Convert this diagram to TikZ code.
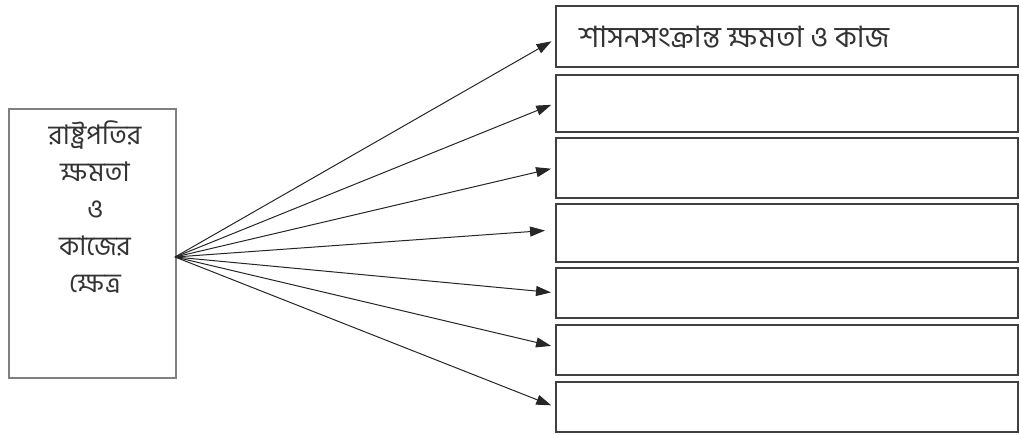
\documentclass[tikz,border=0pt]{standalone}
\usepackage{fontspec}
\newfontfamily\bn[Script=Bengali]{Hind Siliguri}
\usetikzlibrary{arrows.meta}
\begin{document}
\begin{tikzpicture}[x=1pt,y=-1pt,
  rbox/.style={draw=black!75,line width=1.6pt,minimum width=462pt,inner sep=0pt,anchor=north west},
  lbox/.style={draw=black!50,line width=1.6pt,minimum width=167pt,minimum height=269pt,anchor=north west,inner sep=0pt},
  conn/.style={black!85,line width=1pt,-{Triangle[length=15pt,width=10pt]},shorten >=4pt},
  btxt/.style={font=\bn\fontsize{27}{37}\selectfont,text=black!80,inner sep=0pt}]
\useasboundingbox (0,0) rectangle (1020,434);
\node[lbox] (L) at (8,108) {};
\node[btxt,align=center,anchor=north] (Lt) at (95,121) {রাষ্ট্রপতির\\ক্ষমতা\\ও\\কাজের\\ক্ষেত্র};
\coordinate (o) at (175,257);
\node[rbox,minimum height=61pt] (b1) at (555,5) {};
\node[rbox,minimum height=57pt] (b2) at (555,74) {};
\node[rbox,minimum height=60pt] (b3) at (555,137) {};
\node[rbox,minimum height=58pt] (b4) at (555,203) {};
\node[rbox,minimum height=50pt] (b5) at (555,267) {};
\node[rbox,minimum height=50pt] (b6) at (555,324) {};
\node[rbox,minimum height=50pt] (b7) at (555,381) {};
\node[btxt,anchor=west,font=\bn\fontsize{29.5}{34}\selectfont] (t1) at (579,37) {শাসনসংক্রান্ত ক্ষমতা ও কাজ};
\draw[conn] (o) -- ([yshift=-3pt]b1.west);
\draw[conn] (o) -- (b2.west);
\draw[conn] (o) -- (b3.west);
\draw[conn,shorten >=10pt] (o) -- ([yshift=3pt]b4.west);
\draw[conn] (o) -- (b5.west);
\draw[conn] (o) -- ([yshift=3pt]b6.west);
\draw[conn] (o) -- (b7.west);
\end{tikzpicture}
\end{document}
